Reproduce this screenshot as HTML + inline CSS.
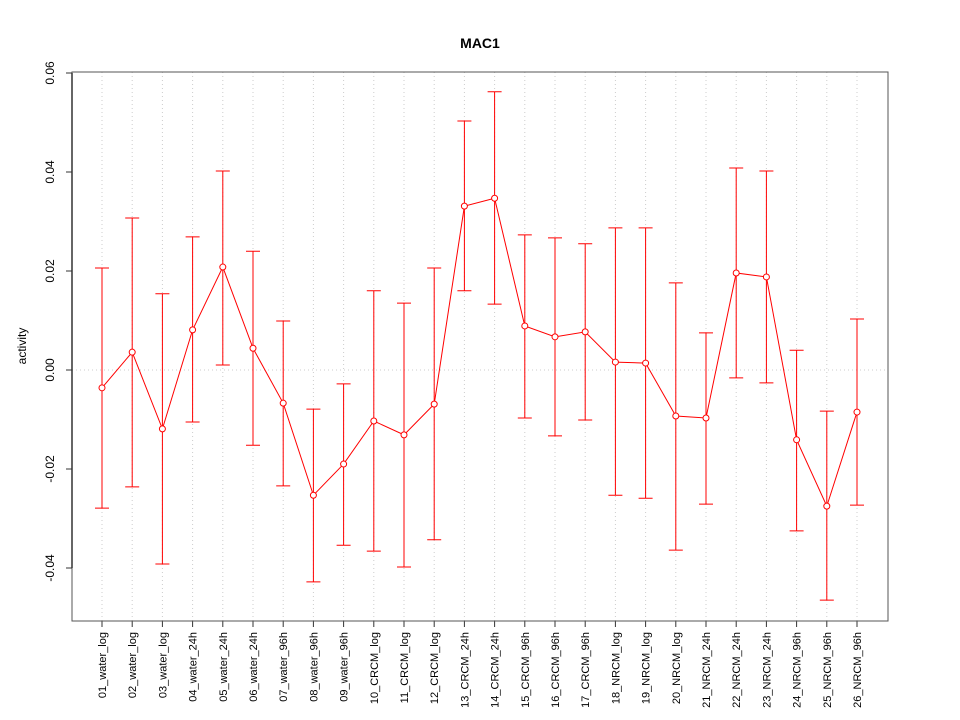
<!DOCTYPE html>
<html><head><meta charset="utf-8"><style>
body{margin:0;background:#fff}
svg{display:block;font-family:"Liberation Sans",sans-serif}
</style></head><body>
<svg id="chart" width="960" height="720" viewBox="0 0 960 720" xmlns="http://www.w3.org/2000/svg">
<text x="480" y="48" text-anchor="middle" font-size="14" font-weight="bold">MAC1</text>
<text transform="translate(26,346) rotate(-90)" text-anchor="middle" font-size="12">activity</text>
<g id="grid"></g><g id="axes"></g><g id="marks"></g>
</svg>
<script>
const categories=["01_water_log","02_water_log","03_water_log","04_water_24h","05_water_24h","06_water_24h","07_water_96h","08_water_96h","09_water_96h","10_CRCM_log","11_CRCM_log","12_CRCM_log","13_CRCM_24h","14_CRCM_24h","15_CRCM_96h","16_CRCM_96h","17_CRCM_96h","18_NRCM_log","19_NRCM_log","20_NRCM_log","21_NRCM_24h","22_NRCM_24h","23_NRCM_24h","24_NRCM_96h","25_NRCM_96h","26_NRCM_96h"];
const means=[-0.0036,0.0036,-0.0119,0.0081,0.0208,0.0044,-0.0067,-0.0253,-0.0190,-0.0103,-0.0131,-0.0069,0.0331,0.0347,0.0089,0.0067,0.0077,0.0016,0.0014,-0.0093,-0.0097,0.0196,0.0188,-0.0141,-0.0275,-0.0085];
const uppers=[0.0206,0.0307,0.0154,0.0269,0.0402,0.0240,0.0099,-0.0079,-0.0028,0.0160,0.0135,0.0206,0.0503,0.0562,0.0273,0.0267,0.0255,0.0287,0.0287,0.0176,0.0075,0.0408,0.0402,0.0040,-0.0083,0.0103];
const lowers=[-0.0279,-0.0236,-0.0392,-0.0105,0.0010,-0.0152,-0.0234,-0.0428,-0.0354,-0.0366,-0.0398,-0.0343,0.0160,0.0133,-0.0097,-0.0133,-0.0101,-0.0253,-0.0259,-0.0364,-0.0271,-0.0016,-0.0026,-0.0325,-0.0465,-0.0273];
const yTicks=[-0.04,-0.02,0,0.02,0.04,0.06];
const yTickLabels=["-0.04","-0.02","0.00","0.02","0.04","0.06"];

const NS="http://www.w3.org/2000/svg";
const L=72,R=888,T=72,B=621;
const x=i=>102+i*(857-102)/(categories.length-1);
const y=v=>370-v*4950;
function mk(parent,tag,attrs){const e=document.createElementNS(NS,tag);for(const k in attrs)e.setAttribute(k,attrs[k]);document.getElementById(parent).appendChild(e);return e;}

categories.forEach((c,i)=>{
  const g=mk('grid','line',{x1:x(i),x2:x(i),y1:T,y2:B,stroke:'#ccc','stroke-dasharray':'1,3'});
  
  
  const t=mk('axes','text',{transform:`translate(${x(i)+4},632) rotate(-90)`,'text-anchor':'end','font-size':'11'});
  t.textContent=c;
  
  
  const tk=mk('axes','line',{x1:x(i),x2:x(i),y1:B,y2:B+6,stroke:'#333'});
  
  
});
const z=mk('grid','line',{x1:L,x2:R,y1:y(0),y2:y(0),stroke:'#ccc','stroke-dasharray':'1,3'});


const box=mk('axes','rect',{x:L,y:T,width:R-L,height:B-T,fill:'none',stroke:'#555'});


const ax=mk('axes','line',{x1:L,x2:L,y1:y(yTicks[yTicks.length-1]),y2:y(yTicks[0]),stroke:'#333','stroke-width':1.5});


yTicks.forEach((v,i)=>{
  const tk=mk('axes','line',{x1:L-6,x2:L,y1:y(v),y2:y(v),stroke:'#333'});
  
  
  const t=mk('axes','text',{transform:`translate(54,${y(v)}) rotate(-90)`,'text-anchor':'middle','font-size':'12'});
  t.textContent=yTickLabels[i];
  
  
});
means.forEach((m,i)=>{
  const eb=mk('marks','path',{d:`M${x(i)},${y(uppers[i])}V${y(lowers[i])}M${x(i)-7},${y(uppers[i])}H${x(i)+7}M${x(i)-7},${y(lowers[i])}H${x(i)+7}`,stroke:'#f00',fill:'none'});
  
  
});
const line=mk('marks','polyline',{points:means.map((m,i)=>x(i)+','+y(m)).join(' '),fill:'none',stroke:'#f00'});


means.forEach((m,i)=>{
  const c=mk('marks','circle',{cx:x(i),cy:y(m),r:3,fill:'#fff',stroke:'#f00'});
  
  
});
</script>
</body></html>
